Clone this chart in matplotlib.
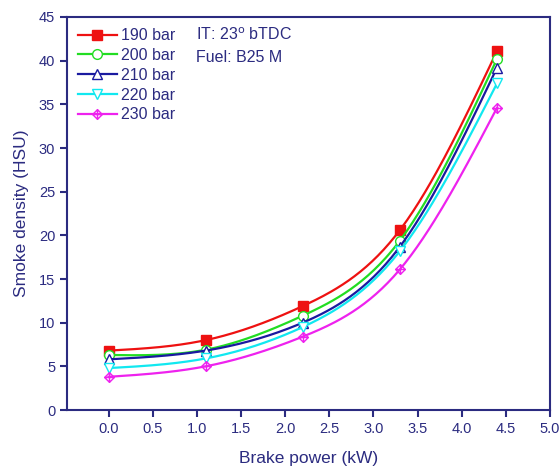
import matplotlib
matplotlib.use('Agg')
import matplotlib.pyplot as plt
import numpy as np
from matplotlib.path import Path

# potencia al freno (kW) y densidad de humo (HSU) por presion de inyeccion
POTENCIA = [0.0, 1.1, 2.2, 3.3, 4.4]
HUMO_190 = [6.8, 8.0, 11.9, 20.6, 41.1]
HUMO_200 = [6.3, 6.9, 10.8, 19.4, 40.2]
HUMO_210 = [5.8, 6.8, 10.0, 18.7, 39.2]
HUMO_220 = [4.8, 5.9, 9.5, 18.2, 37.4]
HUMO_230 = [3.8, 5.0, 8.4, 16.1, 34.6]
ETIQUETAS = ['190 bar', '200 bar', '210 bar', '220 bar', '230 bar']

AZUL_EJE = '#2b2b80'

# rombo con cruz, para la serie de 230 bar
rombo_cruz = Path(
    [(0, 1), (1, 0), (0, -1), (-1, 0), (0, 1), (0, 1), (0, -1), (-1, 0), (1, 0)],
    [Path.MOVETO, Path.LINETO, Path.LINETO, Path.LINETO, Path.CLOSEPOLY,
     Path.MOVETO, Path.LINETO, Path.MOVETO, Path.LINETO])


def spline_natural(x, y, n=200):
    """Spline cubico natural para suavizar la curva entre puntos medidos."""
    x = np.asarray(x, float)
    y = np.asarray(y, float)
    k = len(x)
    h = np.diff(x)
    A = np.zeros((k, k))
    b = np.zeros(k)
    A[0, 0] = A[-1, -1] = 1
    for i in range(1, k - 1):
        A[i, i - 1] = h[i - 1]
        A[i, i] = 2 * (h[i - 1] + h[i])
        A[i, i + 1] = h[i]
        b[i] = 6 * ((y[i + 1] - y[i]) / h[i] - (y[i] - y[i - 1]) / h[i - 1])
    M = np.linalg.solve(A, b)
    xs = np.linspace(x[0], x[-1], n)
    idx = np.clip(np.searchsorted(x, xs) - 1, 0, k - 2)
    x0, x1 = x[idx], x[idx + 1]
    hh = x1 - x0
    ys = (M[idx] * (x1 - xs) ** 3 / (6 * hh) + M[idx + 1] * (xs - x0) ** 3 / (6 * hh)
          + (y[idx] / hh - M[idx] * hh / 6) * (x1 - xs)
          + (y[idx + 1] / hh - M[idx + 1] * hh / 6) * (xs - x0))
    return xs, ys


plt.rcParams['font.family'] = ['Liberation Sans', 'DejaVu Sans']

fig = plt.figure(figsize=(5.6, 4.69), dpi=100)
ax = fig.add_axes([67 / 560, 1 - 410 / 469, 483 / 560, 393 / 469])

series = [
    (HUMO_190, '#ee1111', dict(marker='s', markerfacecolor='#ee1111')),
    (HUMO_200, '#22dd22', dict(marker='o', markerfacecolor='white')),
    (HUMO_210, '#1a1aa0', dict(marker='^', markerfacecolor='white')),
    (HUMO_220, '#11e8f0', dict(marker='v', markerfacecolor='white')),
    (HUMO_230, '#ee22ee', dict(marker=rombo_cruz, markerfacecolor='none')),
]

for (valores, color, estilo), etiqueta in zip(series, ETIQUETAS):
    xs, ys = spline_natural(POTENCIA, valores)
    ax.plot(xs, ys, color=color, linewidth=1.6)
    ax.plot(POTENCIA, valores, linestyle='none', color=color, markersize=7,
            markeredgecolor=color, markeredgewidth=1.0, **estilo)
    ax.plot([], [], color=color, linewidth=1.6, markersize=7,
            markeredgecolor=color, markeredgewidth=1.0, label=etiqueta, **estilo)

ax.set_xlim(-0.47, 5.0)
ax.set_ylim(0, 45)
ax.set_xticks(np.arange(0, 5.01, 0.5))
ax.set_yticks(np.arange(0, 46, 5))
ax.xaxis.set_major_formatter(matplotlib.ticker.FormatStrFormatter('%.1f'))

for spine in ax.spines.values():
    spine.set_color(AZUL_EJE)
    spine.set_linewidth(1.5)
ax.tick_params(direction='out', length=5, width=1.5, colors=AZUL_EJE,
               labelsize=10.5, labelcolor=AZUL_EJE)

ax.set_xlabel('Brake power (kW)', fontsize=12.5, color=AZUL_EJE, labelpad=11)
ax.set_ylabel('Smoke density (HSU)', fontsize=12.5, color=AZUL_EJE, labelpad=7)

leyenda = ax.legend(loc='upper left', frameon=False, fontsize=11.5,
                    handlelength=2.4, handletextpad=0.3, labelspacing=0.3,
                    borderaxespad=0.3, bbox_to_anchor=(0.0, 1.0))
for texto in leyenda.get_texts():
    texto.set_color(AZUL_EJE)

ax.text(0.267, 0.955, 'IT: 23$^{\\mathrm{o}}$ bTDC', transform=ax.transAxes,
        fontsize=11.5, color=AZUL_EJE, va='center')
ax.text(0.267, 0.898, 'Fuel: B25 M', transform=ax.transAxes,
        fontsize=11.5, color=AZUL_EJE, va='center')

fig.savefig('out.png', dpi=100)
